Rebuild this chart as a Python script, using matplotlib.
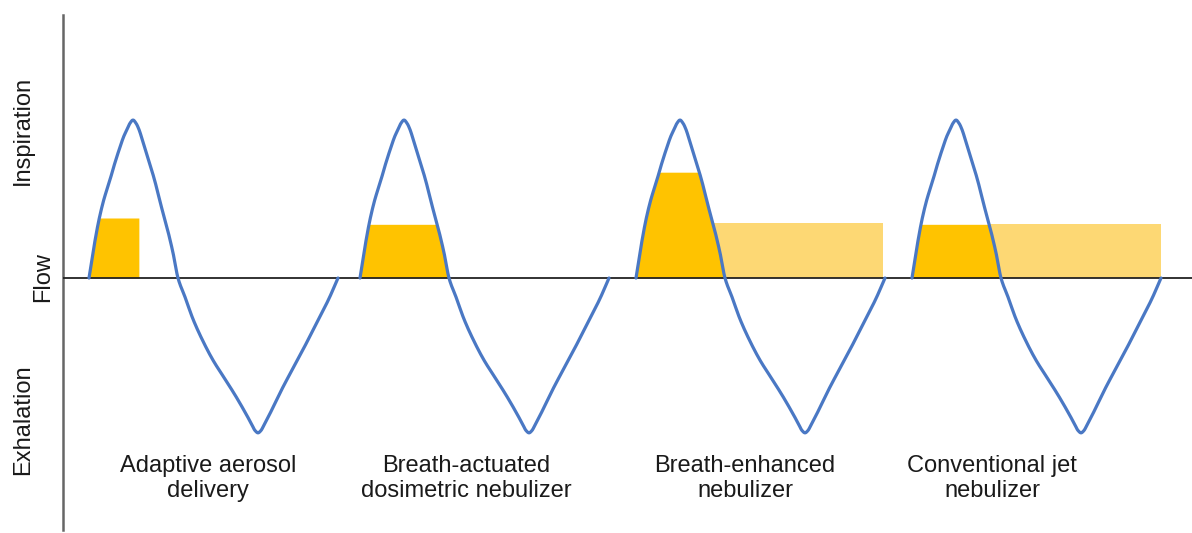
import numpy as np
import matplotlib
matplotlib.use("Agg")
import matplotlib.pyplot as plt

# Four nebulizer types, one breath each
devices = ["Adaptive aerosol\ndelivery",
           "Breath-actuated\ndosimetric nebulizer",
           "Breath-enhanced\nnebulizer",
           "Conventional jet\nnebulizer"]

# Breath onset times (time units on the x axis)
breath_start = [26, 297, 573, 849]

# One breath: time offset from onset and normalised flow (+ inspiration, - exhalation)
breath_t = [0, 5, 10, 15, 20, 25, 30, 35, 38, 41, 44, 47, 50, 54, 60, 66, 72, 78, 84, 89,
            96, 104, 114, 124, 135, 146, 157, 163, 166, 169, 172, 175, 180,
            194, 211, 228, 240, 249]
breath_flow = [0.0, 0.20, 0.37, 0.50, 0.60, 0.71, 0.81, 0.90, 0.94, 0.98, 1.0, 0.98, 0.94,
               0.86, 0.74, 0.61, 0.46, 0.32, 0.16, 0.0,
               -0.12, -0.26, -0.40, -0.52, -0.63, -0.74, -0.86, -0.93, -0.965, -0.98,
               -0.965, -0.93, -0.87,
               -0.69, -0.49, -0.28, -0.13, 0.0]

# Aerosol output during inspiration (dark) and output wasted outside it (light)
dose_level = [0.38, 0.34, 0.67, 0.34]
dose_end = [50, 89, 89, 89]
waste_level = [None, None, 0.35, 0.34]
waste_end = [None, None, 247, 249]

LINE = "#4A78C4"
DOSE = "#FFC300"
WASTE = "#FDD874"


def pchip(x, y, xs):
    # monotone cubic through the breath points, keeps peaks rounded without overshoot
    x = np.asarray(x, float)
    y = np.asarray(y, float)
    h = np.diff(x)
    d = np.diff(y) / h
    m = np.zeros_like(y)
    m[0], m[-1] = d[0], d[-1]
    for k in range(1, len(x) - 1):
        if d[k - 1] * d[k] > 0:
            w1 = 2 * h[k] + h[k - 1]
            w2 = h[k] + 2 * h[k - 1]
            m[k] = (w1 + w2) / (w1 / d[k - 1] + w2 / d[k])
    i = np.clip(np.searchsorted(x, xs) - 1, 0, len(x) - 2)
    s = (xs - x[i]) / h[i]
    h00 = 2 * s**3 - 3 * s**2 + 1
    h10 = s**3 - 2 * s**2 + s
    h01 = -2 * s**3 + 3 * s**2
    h11 = s**3 - s**2
    return h00 * y[i] + h10 * h[i] * m[i] + h01 * y[i + 1] + h11 * h[i] * m[i + 1]


fig = plt.figure(figsize=(11.92, 5.33), dpi=100)
ax = fig.add_axes([63 / 1192, 3 / 533, 1 - 63 / 1192, 515 / 533])
ax.set_xlim(0, 1129)
ax.set_ylim(-1.595, 1.665)

tt = np.linspace(breath_t[0], breath_t[-1], 800)
curve = pchip(breath_t, breath_flow, tt)
peak_t = tt[np.argmax(curve)]

for i, t0 in enumerate(breath_start):
    # wasted aerosol, starting where the falling flow drops below its level
    if waste_level[i] is not None:
        fall = (tt >= peak_t) & (tt <= 89)
        t_cross = np.interp(waste_level[i], curve[fall][::-1], tt[fall][::-1])
        ax.fill_between([t0 + t_cross - 1, t0 + waste_end[i]], 0, waste_level[i],
                        color=WASTE, lw=0, zorder=1)
    # delivered aerosol, clipped under the flow curve
    sel = tt <= dose_end[i]
    top = np.clip(np.minimum(curve[sel], dose_level[i]), 0, None)
    ax.fill_between(t0 + tt[sel], 0, top, color=DOSE, lw=0, zorder=2)
    ax.plot(t0 + tt, curve, color=LINE, lw=2.3, solid_capstyle="round", zorder=4)

ax.axhline(0, color="#222222", lw=1.3, zorder=3)

label_x = [145, 403, 682, 929]
for x, name in zip(label_x, devices):
    ax.text(x, -1.27, name, ha="center", va="center", fontsize=17,
            family="Liberation Sans", color="#1a1a1a", linespacing=1.15)

for s in ["top", "right", "bottom"]:
    ax.spines[s].set_visible(False)
ax.spines["left"].set_color("#666666")
ax.spines["left"].set_linewidth(1.8)
ax.set_xticks([])
ax.set_yticks([])
ax.patch.set_alpha(0)

side = dict(rotation=90, ha="center", va="center", fontsize=17,
            family="Liberation Sans", color="#1a1a1a")
fig.text(23 / 1192, 1 - 130 / 533, "Inspiration", **side)
fig.text(43 / 1192, 1 - 277 / 533, "Flow", **side)
fig.text(23 / 1192, 1 - 420 / 533, "Exhalation", **side)

fig.savefig("out.png", dpi=100, facecolor="white")
